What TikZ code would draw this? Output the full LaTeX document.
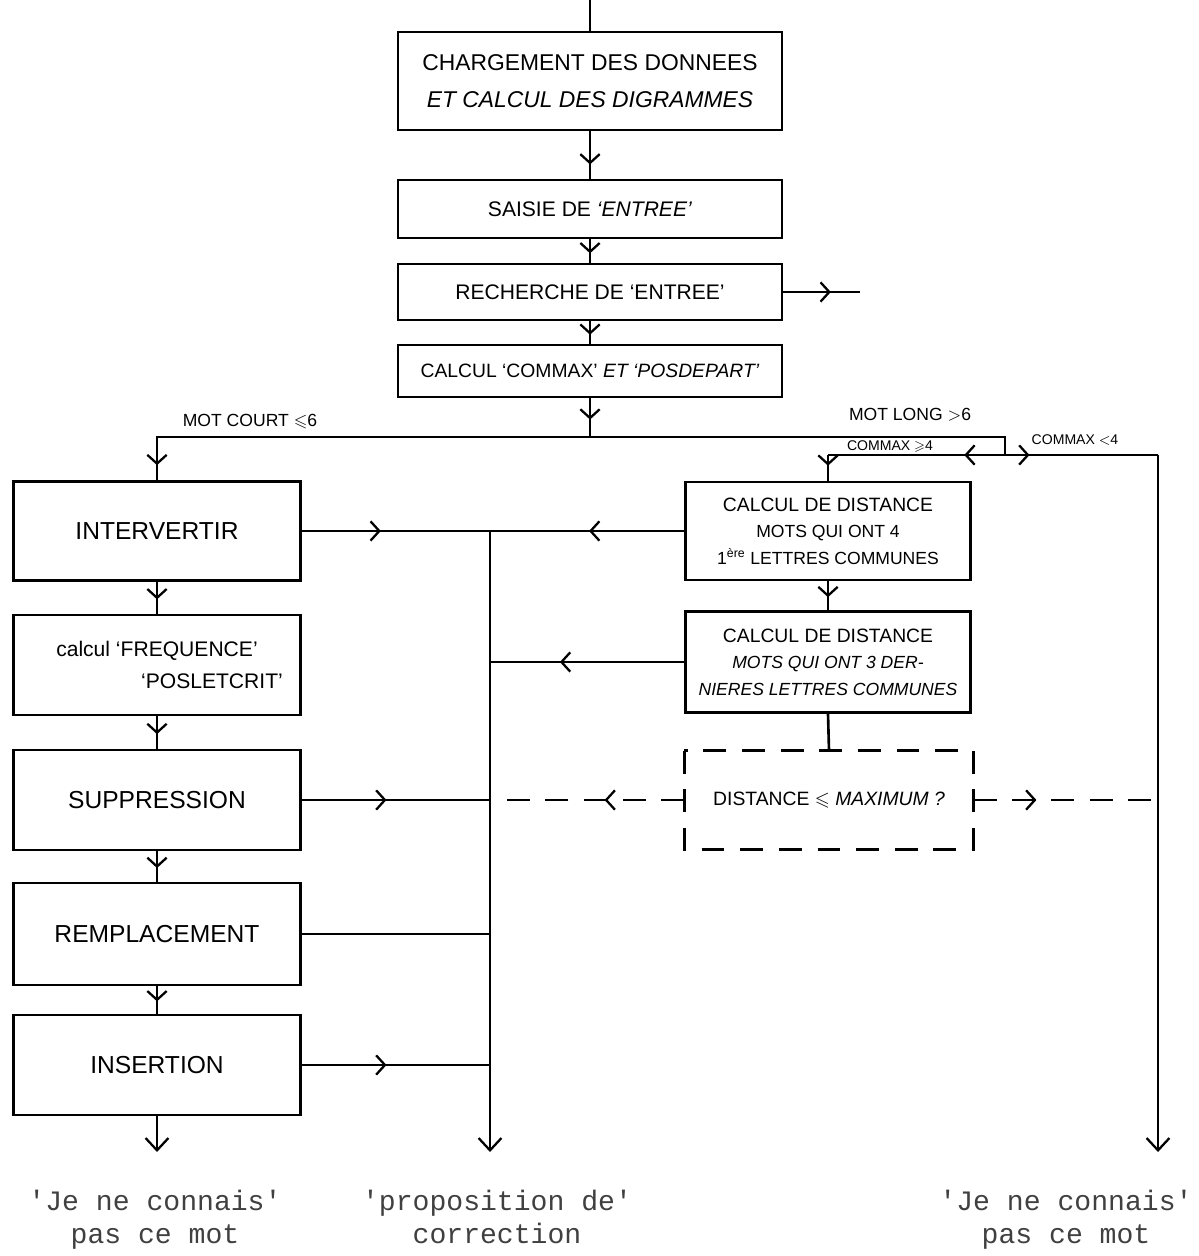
\documentclass[tikz,border=0pt]{standalone}
\usepackage{amssymb}
\usepackage{fontspec}
\setmainfont{Liberation Sans}
\newfontfamily\twfont{Liberation Mono}
\usetikzlibrary{arrows.meta,decorations.markings,calc}

\tikzset{
  conn/.style={line width=1.5pt},
  dconn/.style={line width=1.5pt,dash pattern=on 13pt off 9pt},
  box/.style={draw,line width=1.5pt,minimum width=7.68cm,align=center,inner sep=1pt},
  lbox/.style={draw,line width=1.5pt,minimum width=5.74cm,minimum height=1.98cm,align=center,inner sep=1pt,font=\fontsize{14}{17}\selectfont},
  rbox/.style={draw,line width=1.5pt,minimum width=5.7cm,minimum height=1.96cm,align=center,inner sep=1pt},
  lbl/.style={inner sep=0pt,font=\fontsize{10}{12}\selectfont},
  slbl/.style={inner sep=0pt,font=\fontsize{8}{10}\selectfont},
  outtxt/.style={align=center,inner sep=0pt,anchor=north,text=black!75,font=\twfont\fontsize{16}{18.5}\selectfont},
  tipend/.style={-{Straight Barb[length=7pt,width=13pt,line width=1.3pt]}},
  midarr/.style={postaction={decorate},decoration={markings,mark=at position #1 with {\arrow{Straight Barb[length=5pt,width=11pt,line width=1.3pt]}}}},
}

\begin{document}
\begin{tikzpicture}[x=0.02cm,y=-0.02cm]
\useasboundingbox (0,0) rectangle (1198,1256);

% central column
\node[box,minimum height=1.96cm,font=\fontsize{13}{21}\selectfont] (b1) at (590,81) {CHARGEMENT DES DONNEES\\ \textit{ET CALCUL DES DIGRAMMES}};
\node[box,minimum height=1.16cm,font=\fontsize{12}{15}\selectfont] (b2) at (590,209) {SAISIE DE \textit{`ENTREE'}};
\node[box,minimum height=1.12cm,font=\fontsize{12}{15}\selectfont] (b3) at (590,292) {RECHERCHE DE `ENTREE'};
\node[box,minimum height=1.04cm,font=\fontsize{11}{14}\selectfont] (b4) at (590,371) {CALCUL `COMMAX' \textit{ET `POSDEPART'}};

% left column
\node[lbox] (l1) at (157,531) {INTERVERTIR};
\node[lbox,minimum height=2cm,font=\fontsize{12}{18}\selectfont] (l2) at (157,665) {calcul `FREQUENCE'\\ \hspace*{2.2cm}`POSLETCRIT'};
\node[lbox,minimum height=2cm] (l3) at (157,800) {SUPPRESSION};
\node[lbox,minimum height=2.04cm] (l4) at (157,934) {REMPLACEMENT};
\node[lbox,minimum height=2cm] (l5) at (157,1065) {INSERTION};

% right column
\node[rbox,font=\fontsize{11}{15}\selectfont] (r1) at (828,531) {CALCUL DE DISTANCE\\ {\fontsize{10}{13}\selectfont MOTS QUI ONT 4}\\ {\fontsize{10}{13}\selectfont 1\textsuperscript{ère} LETTRES COMMUNES}};
\node[rbox,minimum height=2.02cm,font=\fontsize{11}{15}\selectfont] (r2) at (828,662) {CALCUL DE DISTANCE\\ {\fontsize{10}{13}\selectfont\itshape MOTS QUI ONT 3 DER-}\\ {\fontsize{10}{13}\selectfont\itshape NIERES LETTRES COMMUNES}};
\node[rbox,draw=none,minimum width=5.74cm,minimum height=1.92cm,font=\fontsize{11}{14}\selectfont] (r3) at (829,800) {DISTANCE $\leqslant$ \textit{MAXIMUM ?}};
\draw[dconn] (r3.north west) rectangle (r3.south east);

% coordinates
\coordinate (top) at (590,0);
\coordinate (j1) at (590,437);
\coordinate (c1) at (1005,455);
\coordinate (c2) at (828,455);
\coordinate (c3) at (1158,455);
\coordinate (e3) at (1158,1152);
\coordinate (e2) at (860,292);
\coordinate (e1) at (157,1152);
\coordinate (m1) at (490,531);
\coordinate (m2) at (490,662);
\coordinate (m3) at (490,800);
\coordinate (m4) at (490,934);
\coordinate (m5) at (490,1065);
\coordinate (m6) at (490,1152);
\coordinate (d1) at (1158,800);

% central flow
\draw[conn] (top) -- (b1.north);
\draw[conn,midarr=0.7] (b1.south) -- (b2.north);
\draw[conn,midarr=0.6] (b2.south) -- (b3.north);
\draw[conn,midarr=0.6] (b3.south) -- (b4.north);
\draw[conn,midarr=0.55] (b4.south) -- (j1);
\draw[conn,midarr=0.62] (b3.east) -- (e2);

% branches
\draw[conn,midarr=-0.3cm] (j1) -| (l1.north);
\draw[conn] (j1) -| (c1);
\draw[conn,midarr=0.23] (c1) -- (c2);
\draw[conn,midarr=-0.3cm] (c2) -- (r1.north);
\draw[conn,midarr=0.16] (c1) -- (c3);
\draw[conn,tipend] (c3) -- (e3);

% left column flow
\draw[conn,midarr=0.55] (l1.south) -- (l2.north);
\draw[conn,midarr=0.55] (l2.south) -- (l3.north);
\draw[conn,midarr=0.55] (l3.south) -- (l4.north);
\draw[conn,midarr=0.55] (l4.south) -- (l5.north);
\draw[conn,tipend] (l5.south) -- (e1);

% right column flow
\draw[conn,midarr=0.55] (r1.south) -- (r2.north);
\draw[conn] (r2.south) -- (r3.north);

% middle collector
\draw[conn,tipend] (m1) -- (m6);
\draw[conn,midarr=0.42] (l1.east) -- (m1);
\draw[conn,midarr=0.49] (r1.west) -- (m1);
\draw[conn,midarr=0.64] (r2.west) -- (m2);
\draw[conn,midarr=0.45] (l3.east) -- (m3);
\draw[conn] (l4.east) -- (m4);
\draw[conn,midarr=0.45] (l5.east) -- (m5);
\draw[dconn,midarr=0.41] (r3.west) -- (m3);
\draw[dconn,midarr=0.34] (r3.east) -- (d1);

% labels
\node[lbl] (tc) at (250,422) {MOT COURT $\leqslant$6};
\node[lbl] (tl) at (910,415) {MOT LONG $>$6};
\node[slbl] (t4a) at (890,447) {COMMAX $\geqslant$4};
\node[slbl] (t4b) at (1075,440) {COMMAX $<$4};

% outputs
\node[outtxt] (o1) at (155,1190) {\textquotesingle Je ne connais\textquotesingle\\ pas ce mot};
\node[outtxt] (o2) at (497,1190) {\textquotesingle proposition de\textquotesingle\\ correction};
\node[outtxt] (o3) at (1066,1190) {\textquotesingle Je ne connais\textquotesingle\\ pas ce mot};
\end{tikzpicture}
\end{document}
